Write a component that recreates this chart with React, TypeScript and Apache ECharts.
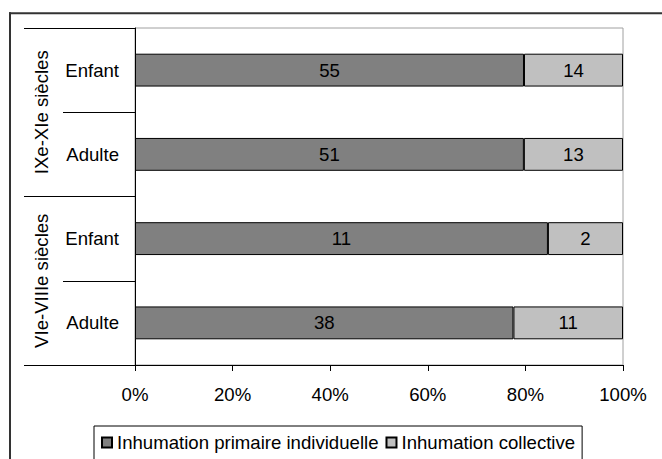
import React, { useEffect, useRef } from "react";
import * as echarts from "echarts";

const categories = ["Enfant", "Adulte", "Enfant", "Adulte"];
const periods = ["IXe-XIe siècles", "VIe-VIIIe siècles"];
const seriesNames = ["Inhumation primaire individuelle", "Inhumation collective"];
const primaire = [55, 51, 11, 38];
const collective = [14, 13, 2, 11];
const xMin = 0;
const xMax = 100;
const xInterval = 20;

const FONT = "'Liberation Sans', Arial, sans-serif";
const FS = 18.6;

export default function App() {
  const ref = useRef<HTMLDivElement>(null);

  useEffect(() => {
    if (!ref.current) return;
    const chart = echarts.init(ref.current, undefined, { renderer: "svg" });
    const totals = primaire.map((v, i) => v + collective[i]);
    const mk = (arr: number[]) =>
      arr.map((v, i) => ({ value: (v / totals[i]) * 100, raw: v }));

    const labelCfg = {
      show: true,
      position: "inside",
      color: "#000",
      fontSize: FS,
      fontFamily: FONT,
      formatter: (p: any) => String(p.data.raw),
    };

    chart.setOption({
      animation: false,
      backgroundColor: "#fff",
      textStyle: { fontFamily: FONT },
      graphic: [
        {
          type: "line",
          silent: true,
          z: -10,
          shape: { x1: 10, y1: 12.3, x2: 10, y2: 459 },
          style: { stroke: "#333", lineWidth: 2 },
        },
        {
          type: "line",
          silent: true,
          z: -10,
          shape: { x1: 9, y1: 13.3, x2: 662, y2: 13.3 },
          style: { stroke: "#333", lineWidth: 2 },
        },
      ],
      grid: {
        left: 135,
        right: 39,
        top: 28,
        bottom: 94,
        show: true,
        borderColor: "#a0a0a0",
        borderWidth: 1,
        backgroundColor: "transparent",
        containLabel: false,
      },
      legend: {
        left: 94,
        top: 426,
        padding: [7, 7, 20, 7],
        borderColor: "#000",
        borderWidth: 1,
        itemGap: 7,
        itemWidth: 10,
        itemHeight: 10,
        icon: "rect",
        textStyle: { fontSize: FS, color: "#000", fontFamily: FONT },
        data: seriesNames,
      },
      xAxis: {
        type: "value",
        min: xMin,
        max: xMax,
        interval: xInterval,
        axisLine: { show: true, lineStyle: { color: "#000", width: 1 } },
        axisTick: { show: true, length: 6, lineStyle: { color: "#000" } },
        splitLine: { show: false },
        axisLabel: {
          formatter: "{value}%",
          fontSize: FS,
          color: "#000",
          margin: 20,
          fontFamily: FONT,
        },
      },
      yAxis: [
        {
          type: "category",
          inverse: true,
          data: categories.map((c, i) => c + "#" + i),
          axisLine: { show: true, lineStyle: { color: "#000", width: 1 } },
          axisTick: { show: true, interval: 0, length: 72, lineStyle: { color: "#000" } },
          axisLabel: {
            interval: 0,
            formatter: (_v: string, i: number) => categories[i],
            fontSize: FS,
            color: "#000",
            margin: 16,
            fontFamily: FONT,
          },
        },
        {
          type: "category",
          inverse: true,
          position: "left",
          offset: 0,
          data: periods,
          axisLine: { show: false },
          axisTick: { show: true, interval: 0, length: 111, lineStyle: { color: "#000" } },
          axisLabel: {
            interval: 0,
            rotate: 90,
            hideOverlap: false,
            fontSize: FS,
            color: "#000",
            margin: 84,
            fontFamily: FONT,
          },
        },
      ],
      series: [
        {
          name: seriesNames[0],
          type: "bar",
          stack: "total",
          barWidth: "39%",
          itemStyle: { color: "#808080", borderColor: "#000", borderWidth: 1 },
          label: labelCfg,
          data: mk(primaire),
        },
        {
          name: seriesNames[1],
          type: "bar",
          stack: "total",
          barWidth: "39%",
          itemStyle: { color: "#c0c0c0", borderColor: "#000", borderWidth: 1 },
          label: labelCfg,
          data: mk(collective),
        },
      ],
    });

    return () => chart.dispose();
  }, []);

  return (
    <div
      ref={ref}
      style={{ position: "absolute", left: 0, top: 0, width: 662, height: 459 }}
    />
  );
}
